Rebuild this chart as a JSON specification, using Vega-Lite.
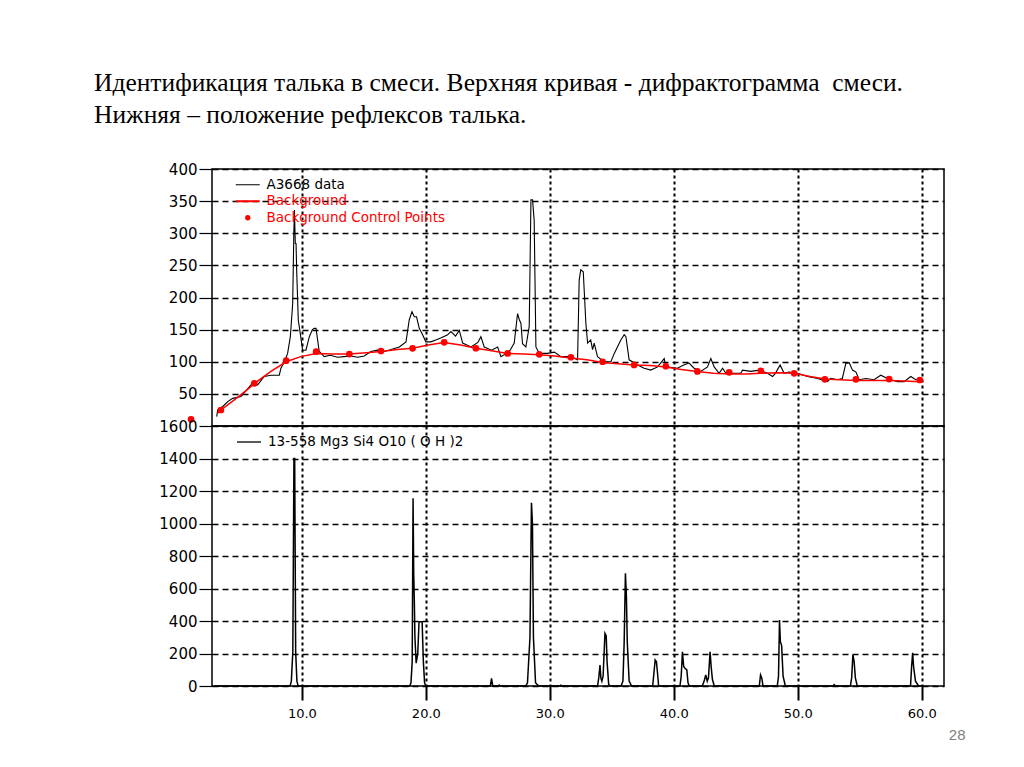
{
  "$schema": "https://vega.github.io/schema/vega-lite/v6.json",
  "background": "white",
  "padding": {"left": 93, "top": 69, "right": 5, "bottom": 5},
  "bounds": "flush",
  "config": {
    "view": {"stroke": "black", "strokeWidth": 1.5},
    "axis": {"labelFont": "DejaVu Sans", "labelFontSize": 13, "labelColor": "black", "tickColor": "black", "domain": false, "gridColor": "black", "gridOpacity": 1, "title": null}
  },
  "datasets": {
    "sample": [
      {"t":3.13,"v":14.5},{"t":3.21,"v":25},{"t":3.6,"v":30},{"t":4.02,"v":38},{"t":4.42,"v":43},{"t":5.09,"v":46},{"t":5.5,"v":55},{"t":5.9,"v":64},{"t":6.43,"v":64},{"t":6.97,"v":77},{"t":7.5,"v":79},{"t":8.18,"v":79},{"t":8.31,"v":90},{"t":8.6,"v":100},{"t":8.85,"v":113},{"t":9.07,"v":139},{"t":9.26,"v":191},{"t":9.35,"v":300},{"t":9.4,"v":336},{"t":9.47,"v":284},{"t":9.53,"v":284},{"t":9.58,"v":243},{"t":9.71,"v":165},{"t":9.85,"v":147},{"t":10.06,"v":118},{"t":10.33,"v":118},{"t":10.6,"v":139},{"t":10.85,"v":150},{"t":11.0,"v":152},{"t":11.14,"v":152},{"t":11.4,"v":116},{"t":11.8,"v":108},{"t":12.3,"v":110},{"t":12.88,"v":107},{"t":13.4,"v":108},{"t":13.96,"v":109},{"t":14.5,"v":107},{"t":15.03,"v":109},{"t":15.57,"v":116},{"t":16.1,"v":118},{"t":16.65,"v":116},{"t":17.2,"v":119},{"t":17.86,"v":123},{"t":18.4,"v":131},{"t":18.66,"v":165},{"t":18.88,"v":178},{"t":19.07,"v":170},{"t":19.25,"v":170},{"t":19.47,"v":152},{"t":19.74,"v":142},{"t":20.0,"v":131},{"t":20.4,"v":131},{"t":20.8,"v":134},{"t":21.2,"v":137},{"t":21.76,"v":142},{"t":22.02,"v":147},{"t":22.4,"v":140},{"t":22.7,"v":149},{"t":22.97,"v":129},{"t":23.64,"v":123},{"t":24.2,"v":130},{"t":24.44,"v":139},{"t":24.71,"v":123},{"t":25.3,"v":118},{"t":25.79,"v":123},{"t":26.06,"v":108},{"t":26.5,"v":113},{"t":26.8,"v":118},{"t":27.13,"v":129},{"t":27.4,"v":175},{"t":27.55,"v":165},{"t":27.67,"v":160},{"t":27.8,"v":128},{"t":28.07,"v":123},{"t":28.34,"v":155},{"t":28.48,"v":352},{"t":28.61,"v":352},{"t":28.74,"v":320},{"t":28.88,"v":123},{"t":29.15,"v":113},{"t":29.82,"v":113},{"t":30.36,"v":115},{"t":30.9,"v":108},{"t":31.7,"v":108},{"t":32.24,"v":103},{"t":32.37,"v":227},{"t":32.5,"v":243},{"t":32.7,"v":240},{"t":32.91,"v":160},{"t":33.05,"v":129},{"t":33.3,"v":134},{"t":33.45,"v":119},{"t":33.58,"v":129},{"t":33.85,"v":108},{"t":34.39,"v":100},{"t":34.93,"v":100},{"t":35.2,"v":113},{"t":35.73,"v":134},{"t":36.0,"v":142},{"t":36.14,"v":139},{"t":36.4,"v":103},{"t":37.08,"v":95},{"t":37.61,"v":90},{"t":38.15,"v":87},{"t":38.7,"v":92},{"t":39.23,"v":105},{"t":39.36,"v":92},{"t":40.3,"v":90},{"t":40.8,"v":95},{"t":41.24,"v":98},{"t":41.64,"v":90},{"t":42.18,"v":85},{"t":42.72,"v":92},{"t":42.99,"v":105},{"t":43.26,"v":92},{"t":43.66,"v":82},{"t":43.94,"v":90},{"t":44.2,"v":82},{"t":45.4,"v":82},{"t":45.55,"v":87},{"t":46.2,"v":85},{"t":46.9,"v":87},{"t":47.56,"v":82},{"t":47.97,"v":77},{"t":48.2,"v":82},{"t":48.58,"v":95},{"t":48.9,"v":82},{"t":49.3,"v":84},{"t":49.98,"v":82},{"t":50.79,"v":77},{"t":51.6,"v":74},{"t":52.4,"v":69},{"t":52.67,"v":74},{"t":53.2,"v":72},{"t":53.6,"v":74},{"t":53.88,"v":97.5},{"t":54.15,"v":98.5},{"t":54.42,"v":87},{"t":54.7,"v":84},{"t":54.95,"v":72},{"t":55.49,"v":74},{"t":56.16,"v":72},{"t":56.7,"v":79},{"t":57.24,"v":74},{"t":58.05,"v":69},{"t":58.58,"v":69},{"t":59.12,"v":77},{"t":59.52,"v":72},{"t":59.8,"v":72}
    ],
    "background": [
      {"t":3.2,"v":20},{"t":3.47,"v":24.9},{"t":4.5,"v":40},{"t":5.5,"v":55},{"t":6.16,"v":66},{"t":7.5,"v":85},{"t":8.73,"v":100},{"t":9.9,"v":108},{"t":11.15,"v":113},{"t":12.5,"v":112},{"t":13.83,"v":112},{"t":15.2,"v":114},{"t":16.38,"v":116},{"t":17.7,"v":119},{"t":18.93,"v":121},{"t":20.2,"v":126},{"t":21.48,"v":130},{"t":22.8,"v":126},{"t":24.04,"v":121},{"t":25.3,"v":117},{"t":26.6,"v":113},{"t":27.9,"v":112},{"t":29.15,"v":111},{"t":30.4,"v":109},{"t":31.7,"v":106},{"t":33.0,"v":103},{"t":34.26,"v":99},{"t":35.5,"v":97},{"t":36.8,"v":95},{"t":38.1,"v":94},{"t":39.36,"v":92},{"t":40.6,"v":88},{"t":41.9,"v":85},{"t":43.2,"v":82},{"t":44.47,"v":81},{"t":45.8,"v":81},{"t":47.02,"v":82},{"t":48.4,"v":83},{"t":49.71,"v":82},{"t":51.0,"v":77},{"t":52.19,"v":73},{"t":53.4,"v":72},{"t":54.69,"v":71},{"t":56.0,"v":71},{"t":57.37,"v":71},{"t":58.6,"v":70},{"t":59.85,"v":69}
    ],
    "control": [
      {"t":1.06,"v":10.4},{"t":3.47,"v":24.9},{"t":6.16,"v":66.4},{"t":8.73,"v":101.6},{"t":11.15,"v":115.6},{"t":13.83,"v":112},{"t":16.38,"v":116.7},{"t":18.93,"v":120.9},{"t":21.48,"v":130.2},{"t":24.04,"v":121},{"t":26.6,"v":113},{"t":29.15,"v":111.5},{"t":31.7,"v":107},{"t":34.26,"v":100},{"t":36.8,"v":95},{"t":39.36,"v":93},{"t":41.9,"v":85},{"t":44.47,"v":83.5},{"t":47.02,"v":86},{"t":49.71,"v":82},{"t":52.19,"v":72.6},{"t":54.69,"v":72.6},{"t":57.37,"v":73},{"t":59.85,"v":71.6}
    ],
    "talc": [
      {"t":3.0,"v":0},{"t":9.05,"v":0},{"t":9.15,"v":30},{"t":9.27,"v":210},{"t":9.36,"v":1400},{"t":9.42,"v":1400},{"t":9.5,"v":210},{"t":9.6,"v":30},{"t":9.7,"v":0},
      {"t":18.7,"v":0},{"t":18.8,"v":20},{"t":18.9,"v":150},{"t":18.97,"v":1155},{"t":19.02,"v":700},{"t":19.07,"v":530},{"t":19.12,"v":300},{"t":19.22,"v":140},{"t":19.35,"v":200},{"t":19.45,"v":396},{"t":19.7,"v":396},{"t":19.8,"v":150},{"t":19.9,"v":20},{"t":20.0,"v":0},
      {"t":25.2,"v":0},{"t":25.3,"v":47},{"t":25.4,"v":0},{"t":25.85,"v":0},{"t":25.92,"v":6},{"t":26.0,"v":0},
      {"t":28.05,"v":0},{"t":28.2,"v":20},{"t":28.4,"v":300},{"t":28.52,"v":1128},{"t":28.6,"v":1000},{"t":28.68,"v":300},{"t":28.85,"v":20},{"t":29.1,"v":0},
      {"t":30.85,"v":0},{"t":30.9,"v":5},{"t":30.95,"v":0},
      {"t":33.85,"v":0},{"t":33.95,"v":50},{"t":34.05,"v":129},{"t":34.12,"v":50},{"t":34.2,"v":30},{"t":34.3,"v":60},{"t":34.45,"v":324},{"t":34.55,"v":310},{"t":34.62,"v":150},{"t":34.75,"v":10},{"t":34.85,"v":0},
      {"t":35.75,"v":0},{"t":35.9,"v":30},{"t":36.0,"v":270},{"t":36.1,"v":693},{"t":36.18,"v":550},{"t":36.25,"v":270},{"t":36.4,"v":30},{"t":36.6,"v":0},
      {"t":38.3,"v":0},{"t":38.4,"v":80},{"t":38.5,"v":160},{"t":38.6,"v":150},{"t":38.68,"v":88},{"t":38.78,"v":0},
      {"t":40.5,"v":0},{"t":40.6,"v":60},{"t":40.7,"v":211},{"t":40.8,"v":120},{"t":40.9,"v":109},{"t":41.05,"v":100},{"t":41.15,"v":20},{"t":41.25,"v":0},
      {"t":42.3,"v":0},{"t":42.45,"v":30},{"t":42.58,"v":68},{"t":42.7,"v":30},{"t":42.8,"v":50},{"t":42.93,"v":211},{"t":43.02,"v":117},{"t":43.12,"v":40},{"t":43.27,"v":0},
      {"t":46.9,"v":0},{"t":47.0,"v":68},{"t":47.1,"v":50},{"t":47.2,"v":0},
      {"t":48.35,"v":0},{"t":48.45,"v":60},{"t":48.53,"v":406},{"t":48.6,"v":273},{"t":48.7,"v":250},{"t":48.82,"v":60},{"t":49.0,"v":0},
      {"t":52.85,"v":0},{"t":52.94,"v":8},{"t":53.05,"v":0},
      {"t":54.25,"v":0},{"t":54.35,"v":50},{"t":54.45,"v":191},{"t":54.55,"v":150},{"t":54.65,"v":50},{"t":54.8,"v":0},
      {"t":59.1,"v":0},{"t":59.18,"v":110},{"t":59.27,"v":205},{"t":59.35,"v":117},{"t":59.5,"v":30},{"t":59.75,"v":0},{"t":60.0,"v":0}
    ]
  },
  "spacing": 0,
  "resolve": {"scale": {"color": "independent", "x": "independent", "y": "independent"}, "legend": {"color": "independent"}},
  "vconcat": [
    {
      "width": 732,
      "height": 257,
      "title": {
        "text": ["Идентификация талька в смеси. Верхняя кривая - дифрактограмма\u00a0 смеси.", "Нижняя – положение рефлексов талька."],
        "anchor": "start",
        "frame": "group",
        "dx": -118,
        "offset": 34,
        "font": "Liberation Serif",
        "fontSize": 25.5,
        "fontWeight": "normal",
        "color": "black",
        "lineHeight": 32
      },
      "encoding": {
        "x": {"field": "t", "type": "quantitative", "scale": {"domain": [2.75, 61.8], "nice": false, "zero": false},
          "axis": {"values": [10, 20, 30, 40, 50, 60], "labels": false, "ticks": false, "grid": true, "gridDash": [3, 3], "gridWidth": 2}},
        "y": {"field": "v", "type": "quantitative", "scale": {"domain": [0, 400], "nice": false},
          "axis": {"values": [50, 100, 150, 200, 250, 300, 350, 400], "format": "d", "labelFontSize": 15, "tickSize": 13, "tickWidth": 1.2, "labelPadding": 2, "grid": true, "gridDash": [6, 4], "gridWidth": 1.3}}
      },
      "layer": [
        {
          "data": {"name": "sample"},
          "mark": {"type": "line", "strokeWidth": 1.1, "clip": false},
          "encoding": {
            "color": {"datum": "A3668 data",
              "scale": {"domain": ["A3668 data", "Background", "Background Control Points"], "range": ["#000000", "#ff0000", "#ff0000"]},
              "legend": {
                "title": null, "orient": "none", "legendX": 29, "legendY": 9, "padding": 0,
                "labelFont": "DejaVu Sans", "labelFontSize": 13.5, "labelOffset": 12, "labelLimit": 400,
                "symbolType": "stroke", "symbolSize": 576, "symbolStrokeWidth": 1, "rowPadding": 1.5,
                "encode": {
                  "labels": {"update": {"fill": {"signal": "datum.value === 'A3668 data' ? '#000000' : '#ff0000'"}}},
                  "symbols": {"update": {
                    "shape": {"signal": "datum.value === 'Background Control Points' ? 'circle' : 'stroke'"},
                    "size": {"signal": "datum.value === 'Background Control Points' ? 28 : 576"},
                    "strokeWidth": {"signal": "datum.value === 'Background' ? 2 : (datum.value === 'A3668 data' ? 1 : 0)"},
                    "fill": {"signal": "datum.value === 'Background Control Points' ? '#ff0000' : 'transparent'"},
                    "stroke": {"signal": "datum.value === 'A3668 data' ? '#000000' : '#ff0000'"},
                    "opacity": {"value": 1}
                  }}
                }
              }
            }
          }
        },
        {
          "data": {"name": "background"},
          "mark": {"type": "line", "strokeWidth": 1.5},
          "encoding": {"color": {"datum": "Background"}}
        },
        {
          "data": {"name": "control"},
          "mark": {"type": "point", "filled": true, "size": 45, "opacity": 1, "clip": false},
          "encoding": {"color": {"datum": "Background Control Points"}}
        }
      ]
    },
    {
      "width": 732,
      "height": 260,
      "data": {"name": "talc"},
      "mark": {"type": "line", "strokeWidth": 1.5},
      "encoding": {
        "x": {"field": "t", "type": "quantitative", "scale": {"domain": [2.75, 61.8], "nice": false, "zero": false},
          "axis": {"values": [10, 20, 30, 40, 50, 60], "format": ".1f", "labels": true, "ticks": true, "tickSize": 14, "tickWidth": 2, "labelPadding": 7, "grid": true, "gridDash": [3, 3], "gridWidth": 2,
            "title": "28", "titleColor": "#808080", "titleFont": "Liberation Sans", "titleFontSize": 15, "titleFontWeight": "normal", "titleAlign": "right", "titleBaseline": "middle", "titleX": 753, "titleY": 48}},
        "y": {"field": "v", "type": "quantitative", "scale": {"domain": [0, 1600], "nice": false},
          "axis": {"values": [0, 200, 400, 600, 800, 1000, 1200, 1400, 1600], "format": "d", "labelFontSize": 15, "tickSize": 13, "tickWidth": 1.2, "labelPadding": 2, "grid": true, "gridDash": [6, 4], "gridWidth": 1.3}},
        "color": {"datum": "13-558 Mg3 Si4 O10 ( O H )2",
          "scale": {"domain": ["13-558 Mg3 Si4 O10 ( O H )2"], "range": ["#000000"]},
          "legend": {"title": null, "orient": "none", "legendX": 24, "legendY": 3, "padding": 0,
            "labelFont": "DejaVu Sans", "labelFontSize": 13.5, "labelOffset": 6, "labelLimit": 400, "labelColor": "#000000",
            "symbolType": "stroke", "symbolSize": 576, "symbolStrokeWidth": 1.3, "symbolStrokeColor": "#000000"}}
      }
    }
  ]
}
